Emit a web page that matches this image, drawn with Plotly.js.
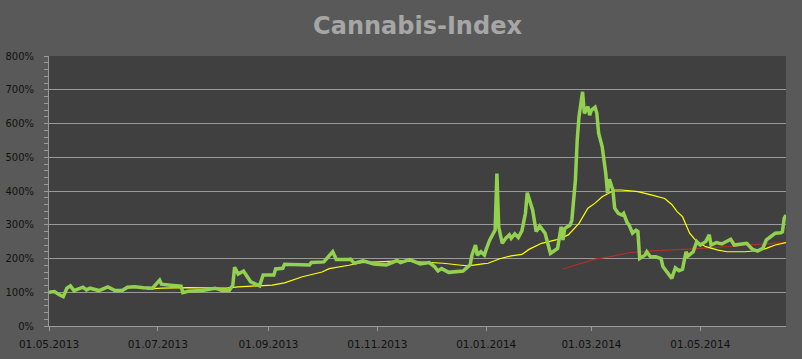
<!DOCTYPE html>
<html>
<head>
<meta charset="utf-8">
<script src="https://cdn.plot.ly/plotly-3.0.1.min.js"></script>
<style>html,body{margin:0;padding:0;background:#595959;}#chart{width:802px;height:359px;}</style>
</head>
<body>
<div id="chart"></div>
<script>
// Index (green)
const indexDates = [
'2013-05-01','2013-05-04','2013-05-07','2013-05-09','2013-05-11','2013-05-13','2013-05-15','2013-05-20','2013-05-22','2013-05-24',
'2013-05-29','2013-06-03','2013-06-07','2013-06-11','2013-06-14','2013-06-18','2013-06-23','2013-06-28','2013-07-02','2013-07-03',
'2013-07-08','2013-07-14','2013-07-15','2013-07-18','2013-07-26','2013-08-02','2013-08-06','2013-08-10','2013-08-12','2013-08-13',
'2013-08-15','2013-08-18','2013-08-22','2013-08-27','2013-08-29','2013-09-04','2013-09-05','2013-09-09','2013-09-10','2013-09-18',
'2013-09-24','2013-09-25','2013-10-02','2013-10-07','2013-10-09','2013-10-16','2013-10-17','2013-10-19','2013-10-24','2013-10-30',
'2013-11-06','2013-11-12','2013-11-14','2013-11-19','2013-11-23','2013-11-25','2013-11-30','2013-12-03','2013-12-05','2013-12-07',
'2013-12-11','2013-12-19','2013-12-23','2013-12-24','2013-12-26','2013-12-27','2013-12-29','2013-12-31','2014-01-01','2014-01-03',
'2014-01-06','2014-01-07','2014-01-08','2014-01-10','2014-01-12','2014-01-14','2014-01-15','2014-01-17','2014-01-19','2014-01-21',
'2014-01-23','2014-01-24','2014-01-27','2014-01-29','2014-01-31','2014-02-03','2014-02-06','2014-02-10','2014-02-12','2014-02-13',
'2014-02-14','2014-02-17','2014-02-18','2014-02-20','2014-02-21','2014-02-22','2014-02-24','2014-02-25','2014-02-27','2014-02-28',
'2014-03-01','2014-03-03','2014-03-04','2014-03-05','2014-03-07','2014-03-09','2014-03-10','2014-03-11','2014-03-13','2014-03-14',
'2014-03-16','2014-03-18','2014-03-19','2014-03-21','2014-03-22','2014-03-24','2014-03-26','2014-03-27','2014-03-28','2014-03-31',
'2014-04-01','2014-04-03','2014-04-06','2014-04-09','2014-04-10','2014-04-13','2014-04-15','2014-04-17','2014-04-19','2014-04-21',
'2014-04-23','2014-04-24','2014-04-27','2014-04-29','2014-05-01','2014-05-04','2014-05-06','2014-05-07','2014-05-10','2014-05-13',
'2014-05-16','2014-05-18','2014-05-20','2014-05-23','2014-05-27','2014-05-30','2014-06-02','2014-06-05','2014-06-07','2014-06-09',
'2014-06-12','2014-06-15','2014-06-16','2014-06-17','2014-06-18'
];
const indexValues = [
100,102,92,87,112,119,105,115,107,112,
105,116,105,105,115,116,113,112,136,124,
121,118,99,103,105,112,105,105,121,174,
154,163,131,119,151,151,169,171,183,183,
181,188,190,220,197,197,198,186,193,184,
181,194,188,197,190,184,188,176,163,170,
159,163,181,210,240,210,220,210,227,255,
284,452,294,245,260,270,260,273,262,282,
334,395,344,280,296,275,215,230,294,255,
289,299,314,433,551,620,694,630,650,625,
640,648,630,571,531,452,393,435,403,349,
334,329,334,306,300,275,284,280,200,210,
220,205,205,200,176,156,141,172,164,168,
220,207,220,250,240,250,270,240,247,243,
250,257,240,242,245,228,222,230,255,263,
275,276,279,319,329
];
// Moving average (yellow)
const maYellowDates = [
'2013-06-25','2013-07-03','2013-07-18','2013-08-08','2013-08-15','2013-09-03','2013-09-10','2013-09-20','2013-10-01','2013-10-05',
'2013-10-16','2013-10-23','2013-11-14','2013-11-27','2013-12-08','2013-12-18','2013-12-22','2013-12-30','2014-01-02','2014-01-09',
'2014-01-15','2014-01-21','2014-01-25','2014-02-01','2014-02-09','2014-02-16','2014-02-22','2014-02-27','2014-03-03','2014-03-07',
'2014-03-11','2014-03-14','2014-03-18','2014-03-27','2014-04-04','2014-04-11','2014-04-15','2014-04-18','2014-04-21','2014-04-24',
'2014-04-25','2014-04-29','2014-05-04','2014-05-11','2014-05-16','2014-05-26','2014-06-01','2014-06-07','2014-06-12','2014-06-18'
];
const maYellowValues = [
109,112,114,112,116,121,128,146,160,170,
180,188,193,190,186,180,178,184,186,200,
208,212,227,245,255,270,304,349,364,383,
393,403,403,398,388,378,360,339,324,289,
275,250,235,225,220,220,223,230,240,247
];
// Moving average (red)
const maRedDates = [
'2014-02-13','2014-02-24','2014-03-03','2014-03-11','2014-03-22','2014-04-02','2014-04-11','2014-05-02','2014-05-21','2014-06-09','2014-06-18'
];
const maRedValues = [169,186,198,205,217,222,224,230,237,245,248];

const titleText = 'Cannabis-Index';
const xStart = '2013-05-01';
const xEnd = '2014-06-18';

const gridColor = '#9a9a9a';
const traces = [
  {x: maRedDates, y: maRedValues, type:'scatter', mode:'lines', line:{color:'#b0302a', width:1.2}, hoverinfo:'skip'},
  {x: maYellowDates, y: maYellowValues, type:'scatter', mode:'lines', line:{color:'#ffff00', width:1.2}, hoverinfo:'skip'},
  {x: indexDates, y: indexValues, type:'scatter', mode:'lines', line:{color:'#92d050', width:3.5}, hoverinfo:'skip'}
];
const layout = {
  width: 802, height: 359,
  margin: {l: 49, r: 16, t: 56, b: 33},
  paper_bgcolor: '#595959',
  plot_bgcolor: '#404040',
  showlegend: false,
  font: {family: 'DejaVu Sans, sans-serif', color: '#111111', size: 10},
  title: {text: '<b>' + titleText + '</b>', x: 0.5, xanchor: 'center', xref: 'paper', y: 1 - 26/359, yanchor: 'middle', yref: 'container',
          font: {family: 'DejaVu Sans, sans-serif', size: 24, color: '#a6a6a6'}},
  xaxis: {
    type: 'date', range: [xStart, xEnd], tick0: xStart, dtick: 'M2', tickformat: '%d.%m.%Y',
    showgrid: false, zeroline: false, showline: true, linecolor: gridColor, linewidth: 1,
    ticks: 'outside', ticklen: 4, tickcolor: gridColor, tickfont: {size: 10.5, color: '#111111'},
    ticklabelstandoff: 4
  },
  yaxis: {
    range: [0, 800], dtick: 100, ticksuffix: '%', showgrid: true, gridcolor: gridColor, gridwidth: 1,
    zeroline: false, showline: true, linecolor: gridColor, linewidth: 1,
    ticks: 'outside', ticklen: 4, tickcolor: gridColor, tickfont: {size: 10, color: '#111111'},
    ticklabelstandoff: 8,
    minor: {dtick: 20, ticks: 'outside', ticklen: 4, tickcolor: gridColor, showgrid: false}
  }
};
Plotly.newPlot('chart', traces, layout, {displayModeBar: false, staticPlot: true});
</script>
</body>
</html>
